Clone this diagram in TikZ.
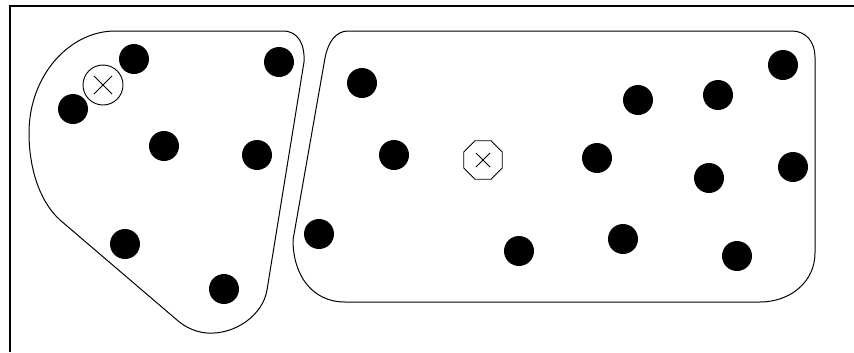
\documentclass[tikz,border=0pt]{standalone}
\usetikzlibrary{shapes.geometric}
\tikzset{
  pt/.style={circle, fill=black, inner sep=0pt, minimum size=0.9cm},
  xmark/.style={draw, line width=0.8pt, inner sep=0pt, minimum size=1.2cm,
    path picture={
      \draw[line width=0.8pt] ([shift={(-#1,-#1)}]path picture bounding box.center) -- ++(2*#1,2*#1);
      \draw[line width=0.8pt] ([shift={(-#1,#1)}]path picture bounding box.center) -- ++(2*#1,-2*#1);}},
  centc/.style={xmark=0.27cm, circle},
  cento/.style={xmark=0.21cm, regular polygon, regular polygon sides=8, minimum size=1.25cm},
  hull/.style={line width=0.85pt, line join=round},
}

\begin{document}
\begin{tikzpicture}[x=0.03cm, y=-0.03cm]
\useasboundingbox (0,0) rectangle (854,352);
% frame
\draw[line width=1.2pt] (10,352) -- (10,6) -- (854,6);
% cluster outlines
\draw[hull] (115,31) -- (283,31) .. controls (298,31) and (305,44) .. (304,62)
  -- (267,290) .. controls (263,315) and (235,335) .. (207,333)
  .. controls (195,332) and (185,327) .. (177,320)
  -- (60,220) .. controls (38,200) and (29,165) .. (29,133)
  .. controls (29,75) and (70,31) .. (115,31) -- cycle;
\draw[hull] (348,31) -- (792,31) .. controls (806,31) and (815,42) .. (815,57)
  -- (815,253) .. controls (815,282) and (790,302) .. (760,302)
  -- (345,302) .. controls (312,302) and (293,275) .. (293,240)
  -- (325,58) .. controls (328,42) and (336,31) .. (348,31) -- cycle;
% cluster A
\node[pt] (a1) at (134,59) {};
\node[pt] (a2) at (279,62) {};
\node[pt] (a3) at (73,109) {};
\node[pt] (a4) at (164,146) {};
\node[pt] (a5) at (257,155) {};
\node[pt] (a6) at (125,244) {};
\node[pt] (a7) at (224,289) {};
\node[centc] (ca) at (103,85) {};
% cluster B
\node[pt] (b1) at (362,83) {};
\node[pt] (b2) at (394,155) {};
\node[pt] (b3) at (319,234) {};
\node[pt] (b4) at (519,251) {};
\node[pt] (b5) at (638,100) {};
\node[pt] (b6) at (718,95) {};
\node[pt] (b7) at (783,65) {};
\node[pt] (b8) at (597,158) {};
\node[pt] (b9) at (709,178) {};
\node[pt] (b10) at (793,167) {};
\node[pt] (b11) at (623,239) {};
\node[pt] (b12) at (737,256) {};
\node[cento] (cb) at (483,160) {};
\end{tikzpicture}
\end{document}
